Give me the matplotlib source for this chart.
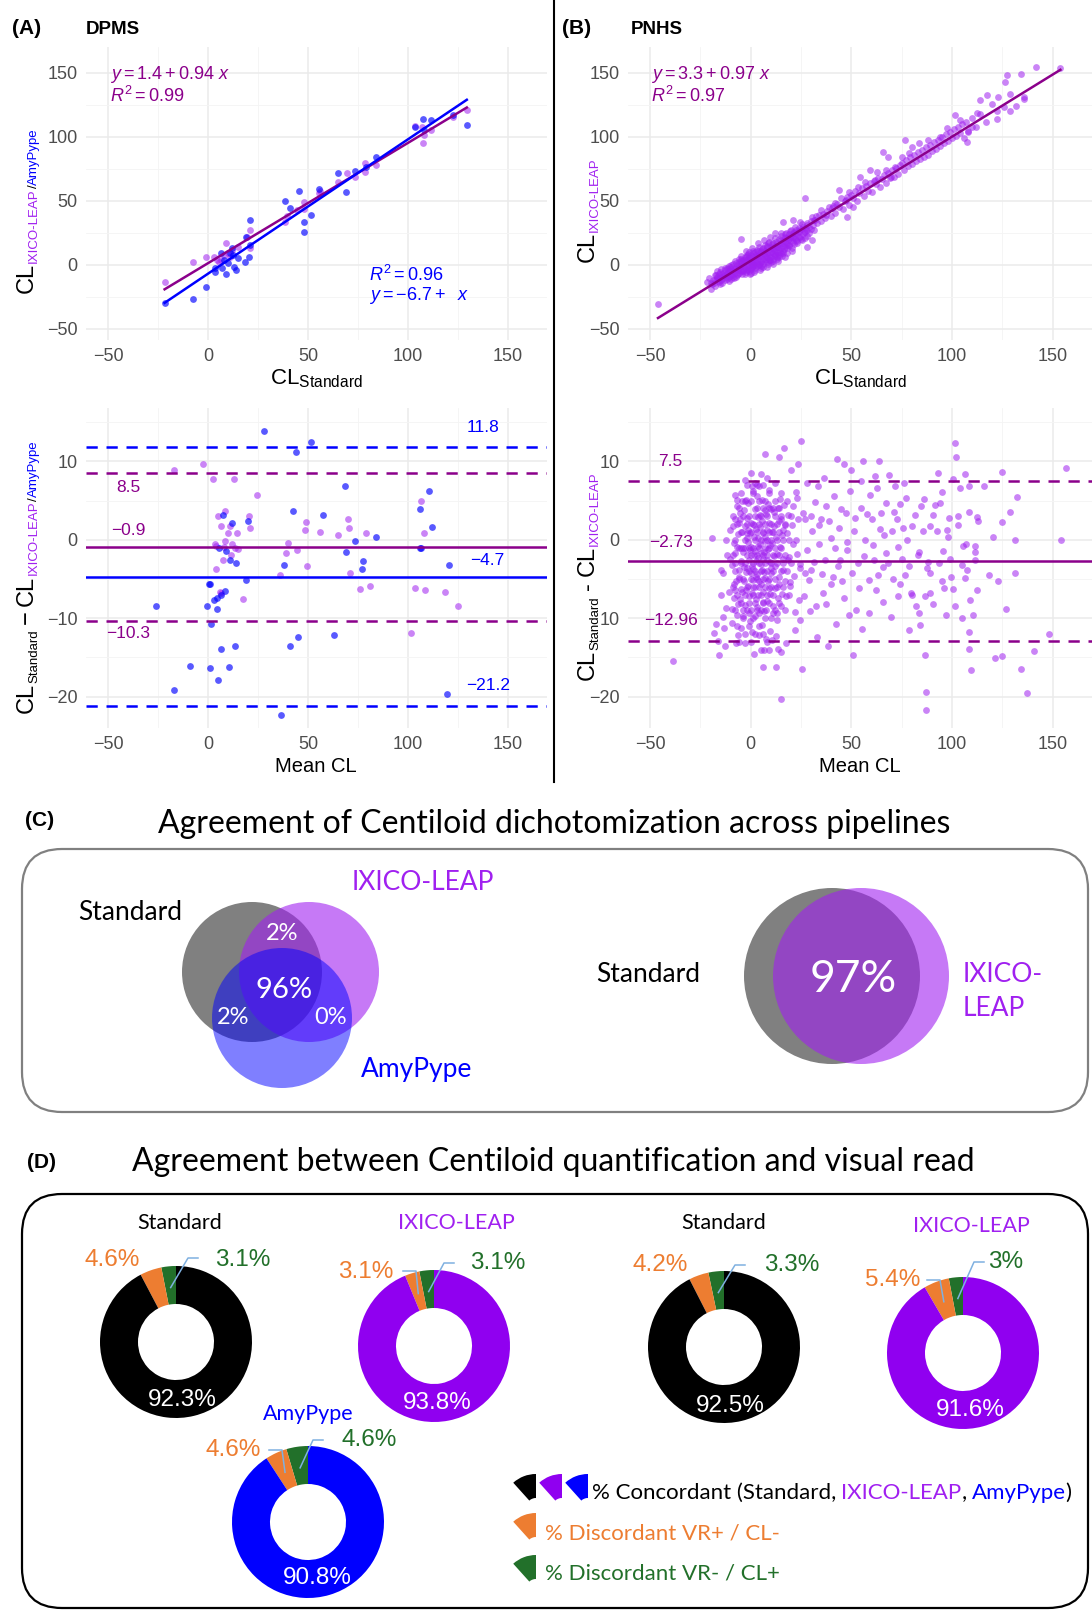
import matplotlib
matplotlib.use("Agg")
import matplotlib.pyplot as plt
from matplotlib.patches import Circle, FancyBboxPatch, Wedge
import numpy as np

W, H = 1092, 1612
plt.rcParams['font.family'] = ['Liberation Sans', 'DejaVu Sans']
plt.rcParams['mathtext.fontset'] = 'custom'
plt.rcParams['mathtext.rm'] = 'Liberation Sans'
plt.rcParams['mathtext.it'] = 'Liberation Sans:italic'
plt.rcParams['mathtext.bf'] = 'Liberation Sans:bold'
CD_FONT = ['Lato', 'DejaVu Sans']

PURPLE = '#A020F0'
DMAG = '#8B008B'
BLUE = '#0000FF'
RING_PURPLE = '#9000F0'
ORANGE = '#ED7D31'
GREEN = '#22702A'
LEADER = '#7FB0E0'

# ---------------- data: DPMS (panel A) ----------------
# (CL standard, CL IXICO-LEAP)
dpms_ixico = [(-21.7, -13.0), (-7.4, 2.0), (-1.2, 6.5), (3.2, 6.5), (4.5, 4.0), (6.6, 4.0),
              (9.2, 16.9), (10.1, 9.1), (12.0, 11.5), (15.2, 14.3), (8.0, 8.0), (5.5, 2.5),
              (11.0, 6.0), (21.2, 27.3), (21.2, 13.0), (19.5, 22.1), (38.4, 33.8), (44.4, 42.9),
              (47.8, 49.4), (55.6, 56.0), (65.0, 65.1), (69.3, 71.6), (73.6, 69.0), (78.7, 79.4),
              (78.7, 72.9), (83.9, 78.1), (107.0, 108.0), (107.9, 101.5), (107.6, 95.5),
              (111.3, 105.4), (122.5, 115.9), (129.4, 121.0), (39.5, 38.0), (48.0, 44.0),
              (56.0, 58.0), (103.5, 108.5)]
# (CL standard, CL AmyPype)
dpms_amypype = [(-21.7, -30.0), (-7.4, -26.6), (-1.2, -17.5), (3.6, -2.6), (3.7, -5.2), (6.6, 9.1),
                (7.0, -2.1), (9.2, -7.3), (10.1, 1.3), (10.9, 9.1), (11.8, 13.0), (13.2, -1.3),
                (14.0, -3.9), (15.2, 5.2), (18.7, 2.6), (19.2, 22.1), (20.4, 6.5), (21.2, 35.1),
                (21.2, 15.6), (38.4, 50.0), (41.0, 44.2), (45.3, 57.8), (47.8, 33.8), (47.8, 25.5),
                (51.3, 39.0), (55.6, 59.3), (65.0, 71.8), (69.0, 56.7), (73.3, 73.1), (79.1, 76.8),
                (83.9, 84.1), (103.6, 108.0), (107.6, 113.8), (107.9, 105.4), (111.3, 113.3),
                (122.5, 117.2), (129.4, 109.3), (8.0, 4.0), (12.5, 7.5)]
fit_ixico = (1.4, 0.94)
fit_amypype = (-6.8, 1.05)

# Bland-Altman (mean CL, difference)
ba_ixico = [(-17.0, 8.9), (-2.5, 9.7), (2.7, 7.8), (13.2, 7.7), (24.3, 5.7), (106.5, 5.0), (4.9, 3.0),
            (8.7, 3.7), (20.4, 3.0), (70.2, 2.7), (48.9, 2.3), (6.7, 1.7), (11.0, 1.7), (21.1, 1.5),
            (70.3, 1.5), (48.4, 1.2), (10.1, 0.9), (14.6, 0.8), (56.1, 1.0), (65.0, 0.6), (78.9, 0.8),
            (108.2, 0.9), (8.4, -0.1), (3.4, -0.5), (11.8, -0.5), (40.1, -0.4), (4.1, -0.8),
            (7.9, -0.9), (13.5, -1.1), (14.9, -1.2), (44.4, -1.3), (38.9, -1.7), (11.5, -2.0),
            (7.5, -2.6), (49.6, -3.4), (4.1, -3.7), (36.2, -4.5), (71.0, -4.3), (5.8, -6.6),
            (76.2, -6.3), (80.8, -5.9), (103.6, -6.1), (108.4, -6.4), (118.7, -6.6), (17.3, -7.6),
            (125.1, -8.5), (101.4, -11.9), (6.5, -6.8)]
ba_amypype = [(28.1, 13.9), (51.3, 12.5), (44.1, 11.2), (68.4, 6.9), (110.5, 6.2), (42.4, 3.7),
              (57.3, 3.1), (105.9, 3.9), (112.2, 1.6), (7.5, 3.2), (11.8, 2.2), (20.0, 2.4),
              (84.2, 0.4), (73.3, -0.2), (69.0, -1.6), (106.7, -1.0), (105.9, -1.1), (5.3, -1.1),
              (9.2, -1.4), (11.0, -2.6), (14.0, -2.9), (77.4, -2.7), (77.0, -3.7), (38.1, -3.2),
              (120.4, -3.2), (19.0, -5.1), (0.6, -5.6), (0.8, -5.7), (8.4, -6.5), (6.7, -7.1),
              (4.6, -7.4), (2.9, -7.7), (-0.6, -8.5), (4.6, -8.8), (-26.0, -8.5), (1.5, -10.8),
              (44.9, -12.4), (62.8, -12.2), (41.0, -13.6), (13.5, -13.5), (6.3, -13.9),
              (-9.1, -16.1), (1.0, -16.4), (10.4, -16.2), (5.0, -17.9), (-17.0, -19.1),
              (119.4, -19.7), (36.7, -22.3)]
loa_ixico = (-0.9, 8.5, -10.3)
loa_amypype = (-4.7, 11.8, -21.2)

# ---------------- data: PNHS (panel B) ----------------
pnhs_xy = [(-46.1, -30.5), (153.8, 154.0), (141.9, 154.4), (126.2, 143.2), (127.2, 148.4),
           (134.0, 149.3), (129.0, 133.6), (135.6, 131.5), (135.6, 129.4), (131.7, 124.2),
           (129.0, 120.0), (122.3, 114.4), (117.3, 133.0), (113.7, 128.9), (122.6, 131.5),
           (119.8, 125.8), (122.3, 120.6), (125.7, 123.7), (116.9, 112.0), (112.5, 118.5),
           (109.9, 108.0), (107.3, 96.3), (107.8, 104.1), (103.8, 113.3), (101.2, 117.2),
           (97.7, 106.7), (94.2, 100.2), (88.1, 97.6), (83.7, 95.0), (80.3, 92.4), (76.8, 97.6),
           (78.5, 87.2), (75.0, 84.6), (65.5, 88.5), (68.1, 84.6), (71.6, 76.8), (67.2, 74.2),
           (69.8, 69.0), (62.8, 72.9), (59.3, 74.2), (61.9, 66.4), (56.7, 65.1), (54.1, 69.0),
           (53.3, 61.2), (48.9, 57.3), (43.7, 58.6), (47.2, 50.8), (50.6, 45.5), (48.0, 37.7),
           (41.9, 48.1), (40.2, 44.2), (37.6, 39.0), (34.9, 42.9), (27.1, 52.6), (31.5, 35.1),
           (28.0, 27.3), (24.5, 33.8), (21.0, 35.1), (15.8, 33.8), (17.5, 24.7), (21.0, 24.7),
           (25.4, 19.5), (30.6, 19.5), (28.0, 14.3), (-4.8, 20.0),
           (-22, -13), (-21, -10), (-20, -14), (-20, -19), (-18, -12), (-18, -8), (-17, -5),
           (-17, -10), (-16, -13), (-16, -7), (-15, -3), (-15, -9), (-15, -12), (-14, -6),
           (-14, -10), (-13, -4), (-13, -8), (-12, -2), (-12, -6), (-12, -11), (-11, -5),
           (-11, -1), (-11, -9), (-10, -3), (-10, -7), (-10, 0), (-10, -11), (-9, -5), (-9, 1),
           (-9, -9), (-8, -2), (-8, -6), (-8, 3), (-7, 0), (-7, -4), (-7, -8), (-6, -2), (-6, 2),
           (-6, 5), (-6, -6), (-5, -1), (-5, 3), (-5, -5), (-5, 7), (-4, 0), (-4, -4), (-4, 4),
           (-3, 2), (-3, -2), (-3, 6), (-3, -7), (-2, 0), (-2, 4), (-2, 8), (-2, -4), (-1, 2),
           (-1, -2), (-1, 6), (-1, 10), (0, 0), (0, 4), (0, 8), (0, -3), (0, -6), (1, 2), (1, 6),
           (1, -1), (1, 11), (2, 4), (2, 0), (2, 8), (2, -4), (3, 3), (3, 7), (3, 12), (3, -1),
           (4, 5), (4, 1), (4, 9), (4, 14), (5, 3), (5, 7), (5, 11), (5, -2), (6, 5), (6, 9),
           (6, 13), (6, 1), (7, 7), (7, 11), (7, 3), (7, 16), (8, 6), (8, 10), (8, 14), (8, 2),
           (9, 8), (9, 12), (9, 4), (9, 18), (10, 10), (10, 6), (10, 14), (10, 2), (11, 9),
           (11, 13), (11, 17), (11, 5), (12, 11), (12, 7), (12, 15), (12, 21), (13, 10), (13, 14),
           (13, 6), (14, 12), (14, 16), (14, 20), (14, 8), (15, 13), (15, 17), (15, 9), (15, 25),
           (16, 15), (16, 19), (16, 11), (17, 14), (17, 22), (17, 18), (18, 17), (18, 21),
           (18, 13), (19, 20), (19, 24), (19, 16), (20, 19), (20, 23), (20, 27), (21, 18),
           (21, 22), (22, 21), (22, 25), (22, 30), (23, 24), (23, 19), (24, 26), (24, 22),
           (25, 28), (25, 20), (26, 24), (26, 30), (27, 29), (27, 26), (28, 33), (28, 23),
           (29, 30), (30, 28), (30, 34), (31, 31), (32, 35), (33, 33),
           (-19.4, -15.2), (-18.7, -11.4), (-17.9, -16.1), (-17.2, -7.8), (-16.5, -12.6),
           (-15.8, -10.4), (-15.1, -5.6), (-14.4, -13.7), (-13.7, -8.9), (-13.0, -2.7),
           (-12.4, -9.7), (-11.7, -6.8), (-11.0, -12.4), (-10.4, -4.6), (-9.7, -1.8), (-9.1, -7.7),
           (-8.4, -10.3), (-7.8, -3.4), (-7.2, 1.6), (-6.6, -7.1), (-6.0, -0.4), (-5.4, -3.6),
           (-4.8, 4.9), (-4.2, -6.9), (-3.6, -1.1), (-3.0, 3.7), (-2.5, -5.7), (-1.9, 1.3),
           (-1.3, 8.6), (-0.7, -4.4), (-0.1, 2.7), (0.5, -1.6), (1.1, 9.2), (1.6, 3.4), (2.2, -2.6),
           (2.8, 5.9), (3.4, 10.6), (3.9, -0.3), (4.5, 6.8), (5.1, 2.1), (5.7, 12.4), (6.2, -1.4),
           (6.8, 8.3), (7.4, 4.6), (8.0, 14.9), (8.5, 0.6), (9.1, 9.7), (9.7, 6.2), (10.3, 16.3),
           (10.8, 3.1), (11.4, 11.8), (12.0, 8.6), (12.6, 18.2), (13.1, 4.9), (13.7, 13.7),
           (14.3, 10.1), (14.9, 22.3), (15.4, 7.3), (16.0, 16.9), (16.6, 12.8), (17.2, 23.9),
           (17.8, 9.7), (18.4, 19.3), (19.0, 14.6), (19.7, 26.8), (20.3, 13.1), (21.0, 20.7),
           (21.7, 16.4), (22.4, 27.5), (23.1, 17.2), (23.9, 29.1), (24.6, 21.6), (25.4, 31.8),
           (26.2, 25.4), (27.1, 21.1), (28.0, 30.9), (29.0, 25.1), (30.2, 37.2), (31.3, 27.6),
           (32.5, 38.4), (-18.2, -13.9), (-16.9, -9.3), (-15.5, -14.8), (-14.1, -7.1),
           (-12.8, -11.6), (-11.4, -3.3), (-10.1, -8.6), (-8.8, -4.9), (-7.5, -9.2), (-6.3, -2.6),
           (-5.0, 1.8), (-3.8, -4.6), (-2.6, 5.9), (-1.5, -2.9), (-0.3, 5.4), (0.9, 0.9),
           (2.0, 10.4), (3.1, 1.7), (4.2, 8.1), (5.3, -0.9), (6.4, 11.2), (7.5, 6.1), (8.6, 16.8),
           (9.6, 3.7), (10.7, 13.1), (11.8, 7.6), (12.9, 16.4), (13.9, 6.4), (15.0, 19.6),
           (16.1, 9.2), (17.1, 20.8), (18.2, 15.4), (19.3, 21.7), (20.4, 10.6), (21.5, 25.6),
           (22.6, 19.7), (23.7, 26.3), (-0.6, -6.8), (1.8, -5.2), (4.8, -3.7), (7.9, -1.8),
           (10.9, 0.7), (13.6, 2.9), (16.8, 6.3), (-2.2, 11.3), (0.7, 13.6), (3.7, 16.8),
           (6.6, 19.4), (9.4, 22.1), (12.2, 24.8),
           (34, 39), (35, 34), (36, 40), (37, 37), (38, 42), (39, 45), (40, 38), (41, 46),
           (42, 41), (43, 48), (44, 45), (45, 52), (46, 44), (47, 50), (48, 53), (49, 47),
           (50, 55), (51, 52), (52, 58), (53, 50), (54, 56), (55, 60), (56, 54), (57, 62),
           (58, 58), (59, 64), (60, 57), (61, 66), (62, 63), (63, 68), (64, 61), (65, 67),
           (66, 70), (67, 64), (68, 72), (69, 68), (70, 74), (71, 69), (72, 76), (73, 71),
           (74, 78), (75, 80), (76, 74), (77, 82), (78, 77), (79, 84), (80, 79), (81, 86),
           (82, 81), (83, 88), (84, 83), (85, 90), (86, 84), (87, 92), (88, 86), (89, 94),
           (90, 89), (91, 96), (92, 91), (93, 98), (94, 93), (95, 100), (96, 95), (97, 102),
           (98, 97), (99, 104), (100, 99), (101, 106), (102, 101), (103, 108), (104, 103),
           (105, 110), (106, 99), (107, 112), (108, 105), (110, 115), (112, 108), (114, 118)]
fit_pnhs = (3.3, 0.97)

pnhs_ba = [(-19.1, 0.2), (-38.6, -15.4), (156.6, 9.2), (154.0, 0.0), (148.2, -12.0), (140.9, -14.2),
           (137.3, -19.5), (134.3, -16.5), (128.7, 3.6), (132.2, 5.5), (131.2, 0.0), (131.2, -4.2),
           (127.0, -8.8), (124.7, 8.7), (124.7, 2.3), (124.7, -14.8), (121.2, -15.1), (123.0, -5.2),
           (120.4, 0.4), (118.3, -4.5), (116.0, 6.8), (112.5, -6.4), (113.0, 2.4), (112.2, 2.9),
           (111.6, -2.6), (111.6, -1.5), (111.6, -0.8), (110.2, -9.6), (109.5, -16.6),
           (108.5, -13.9), (108.5, -11.7), (109.0, -7.7), (108.2, 3.6), (108.2, 6.8), (106.4, 8.4),
           (107.3, -3.8), (106.4, -4.9), (105.5, -0.8), (106.8, -0.6), (104.7, -10.0),
           (103.8, 6.6), (103.0, 1.9), (102.1, 10.6), (101.5, 12.3), (101.2, -8.5), (100.3, 7.7),
           (99.4, -4.7), (99.1, -2.5), (98.6, 2.8), (97.7, 1.3), (95.9, -6.2), (95.1, -5.3),
           (95.6, -1.4), (94.2, 4.7), (92.5, 1.1), (93.0, 8.5), (90.7, 3.2), (89.0, -6.8),
           (89.0, -4.3), (88.1, -2.8), (87.2, -19.4), (87.2, -21.7), (86.4, -14.7), (86.4, -7.2),
           (85.5, 1.1), (84.6, 4.3), (83.7, -1.5), (83.4, -9.4), (82.0, -8.5), (80.3, 1.7),
           (79.4, -6.8), (78.5, -11.5), (77.6, 0.0), (76.8, -4.5), (75.9, 7.2), (75.0, -2.5),
           (74.2, 4.5), (73.3, -7.2), (72.4, 2.6), (71.6, 6.8), (70.7, -5.0), (70.3, 1.1),
           (68.9, 8.2), (67.2, -1.7), (66.3, 0.6), (65.5, -3.5), (64.6, 3.4), (63.7, 10.0),
           (62.8, 6.6), (62.0, -6.4), (61.1, -2.6), (60.2, 2.6), (59.3, 5.7), (58.5, -5.1),
           (56.7, 0.0), (55.9, 10.0), (55.0, -11.4), (54.5, 4.0), (53.2, -3.0), (52.4, -8.9),
           (51.5, 1.1), (50.6, -14.7), (49.8, 8.9), (48.9, -9.6), (48.0, -1.3), (47.2, 3.4),
           (46.3, 9.6), (45.4, -5.3), (44.5, -2.6), (43.7, 1.5), (42.8, 10.3), (41.9, -1.1),
           (41.0, -4.7), (39.8, 0.2), (38.4, -13.6), (37.6, 4.3), (36.7, -2.6), (35.8, -6.8),
           (34.9, 2.6), (34.1, -0.6), (33.2, 6.8), (32.3, -8.5), (31.5, -2.8), (30.6, 1.1),
           (29.7, 3.0), (28.8, -5.1), (28.0, -1.3), (27.1, 2.6), (26.2, -7.2), (25.4, -16.5),
           (24.8, 12.6), (24.5, -3.6), (23.6, 9.6), (22.7, 0.0), (21.9, -11.5), (21.0, 4.3),
           (20.1, 8.9), (19.3, -5.9), (18.4, -2.6), (17.5, -13.2), (16.6, 11.7), (15.8, 1.3),
           (15.1, -20.3), (14.9, -14.3), (14.0, 10.6), (13.2, -9.4), (12.3, -16.2), (7.0, 10.9),
           (6.2, -16.2), (0.1, 8.5), (-1.7, 0.2), (-7.8, -1.7), (-12.5, 0.0), (-13.9, -9.8),
           (-14.7, -3.8), (-17.3, -10.8), (-18.2, -11.9), (-15.6, -14.7), (-13.9, -4.3),
           (-10.4, 1.3), (-7.8, -6.4), (-6.9, 5.1), (-13.0, -13.6),
           (-9, -2), (-9, -6), (-9, 3), (-8, -9), (-8, 0), (-8, -4), (-7, 2), (-7, -7), (-7, -11),
           (-6, -1), (-6, -5), (-6, 4), (-6, -13), (-5, 1), (-5, -3), (-5, -8), (-5, 6), (-4, -1),
           (-4, -5), (-4, -10), (-4, 3), (-3, 0), (-3, -3), (-3, -7), (-3, 5), (-3, -12), (-2, 2),
           (-2, -2), (-2, -6), (-2, -9), (-2, 7), (-1, -1), (-1, -4), (-1, 3), (-1, -8), (-1, -11),
           (0, 1), (0, -2), (0, -5), (0, 5), (0, -9), (0, -13), (1, -1), (1, -3), (1, 2), (1, -7),
           (1, 6), (1, -10), (2, 0), (2, -4), (2, 3), (2, -6), (2, -8), (2, -12), (3, -2), (3, 1),
           (3, -5), (3, 4), (3, -9), (3, 7), (4, -1), (4, -3), (4, 2), (4, -6), (4, -11), (4, 5),
           (5, 0), (5, -4), (5, 3), (5, -7), (5, -9), (5, -14), (6, -2), (6, 1), (6, -5), (6, 4),
           (6, -8), (6, 7), (6, -12), (7, -1), (7, -3), (7, 2), (7, -6), (7, -10), (7, 5), (8, 0),
           (8, -4), (8, 3), (8, -7), (8, -2), (8, -13), (9, -1), (9, 1), (9, -5), (9, 4), (9, -8),
           (9, 6), (10, -3), (10, 0), (10, 2), (10, -6), (10, -10), (11, -2), (11, 1), (11, -4),
           (11, 4), (11, -7), (12, -1), (12, 3), (12, -5), (12, -9), (12, 5), (13, 0), (13, -3),
           (13, -6), (13, 2), (14, -2), (14, 1), (14, -8), (14, 4), (15, -1), (15, -4), (15, 3),
           (15, 6), (16, -3), (16, 0), (16, -6), (17, 2), (17, -2), (17, -9), (18, -4), (18, 5),
           (19, 0), (19, -7), (20, -3), (20, 3),
           (-9.5, -3.2), (-8.7, 1.8), (-8.2, -7.4), (-7.6, -2.9), (-7.1, 4.3), (-6.8, -9.6),
           (-6.3, 0.7), (-5.7, -4.8), (-5.2, 2.6), (-4.8, -11.3), (-4.3, -6.7), (-3.9, -1.6),
           (-3.4, 3.8), (-2.8, -8.3), (-2.5, -4.1), (-2.1, 0.9), (-1.6, -5.9), (-1.2, 4.7),
           (-0.7, -2.6), (-0.3, -10.4), (0.2, 2.1), (0.6, -6.8), (0.9, -3.7), (1.3, 6.2),
           (1.7, -1.9), (2.2, -9.7), (2.6, 1.4), (3.1, -4.4), (3.5, -7.1), (3.8, 2.9),
           (4.3, -12.2), (4.7, -0.6), (5.1, -5.6), (5.6, 5.1), (6.0, -2.4), (6.4, -9.1), (6.9, 0.4),
           (7.3, -4.9), (7.8, 3.3), (8.2, -7.8), (8.6, -1.2), (9.1, 2.2), (9.5, -11.6), (9.9, -4.2),
           (10.4, 1.0), (10.8, -8.4), (11.3, 3.6), (11.7, -2.1), (12.2, -6.2), (12.6, 0.3),
           (13.1, -10.2), (13.5, 4.1), (14.0, -4.7), (14.4, -0.9), (14.9, 2.7), (15.4, -6.9),
           (15.9, -2.5), (16.5, 4.4), (17.2, -5.3), (18.1, 0.8), (19.2, -2.2), (20.4, 1.9),
           (21.6, -4.6), (22.8, 5.3), (23.9, -7.7),
           (-9.1, -8.8), (-8.4, -0.4), (-7.8, 5.7), (-7.3, -5.3), (-6.6, -12.1), (-6.1, 2.2),
           (-5.5, -7.6), (-4.9, -1.1), (-4.5, 4.9), (-4.0, -8.9), (-3.6, -3.5), (-3.1, 1.7),
           (-2.7, -13.2), (-2.3, -6.4), (-1.8, 2.8), (-1.4, -0.3), (-0.9, -7.2), (-0.5, 0.8),
           (0.0, -4.3), (0.4, 6.9), (0.8, -11.8), (1.1, -5.1), (1.5, 0.4), (1.9, 3.9), (2.4, -2.7),
           (2.8, -7.5), (3.3, 5.6), (3.7, -0.8), (4.1, -9.4), (4.5, 1.6), (4.9, -3.1),
           (5.4, -10.9), (5.8, 2.4), (6.2, -6.6), (6.7, -1.5), (7.1, 3.8), (7.6, -12.7), (8.0, 1.2),
           (8.4, -5.2), (8.9, 6.4), (9.3, -2.8), (9.7, -6.9), (10.2, 3.9), (10.6, -0.4),
           (11.1, -9.3), (11.5, 1.7), (12.0, -3.3), (12.4, -12.3), (12.9, -1.8), (13.3, -7.4),
           (13.8, 2.4), (14.2, -5.6), (14.7, 5.2), (15.1, -8.5), (15.6, 0.6), (16.2, -3.8),
           (16.9, 1.9), (17.7, -7.2), (18.6, 3.1), (19.6, -5.4), (20.8, -0.6), (22.1, -9.2),
           (23.4, 2.6), (24.6, -3.1),
           (0.3, -0.9), (0.7, -3.4), (1.2, -6.0), (1.6, 1.9), (2.0, -1.4), (2.5, -4.8), (2.9, -8.6),
           (3.4, 0.2), (3.8, -2.3), (4.2, -5.3), (4.6, 3.1), (5.0, -1.7), (5.5, -3.9), (5.9, -7.9),
           (6.3, 0.9), (6.8, -4.1), (7.2, -0.2), (7.7, -8.9), (8.1, -2.6), (8.5, 4.6), (9.0, -6.1),
           (9.4, -0.7), (9.8, -3.6), (10.3, -12.8), (-0.6, -1.3), (-1.1, -9.4), (-1.5, 1.2),
           (-2.0, -3.6), (-2.4, 5.1), (-2.9, -1.0), (-3.3, -5.2), (-3.8, -9.7), (-4.2, 1.0),
           (-4.7, -2.7), (-5.1, -6.3), (-5.6, 3.4), (-6.0, -3.9), (-6.4, -8.2), (-7.0, -0.9),
           (-7.5, -13.1), (-8.0, 2.7), (-8.5, -5.7), (-9.3, -10.6), (-10.1, -2.4), (-10.8, -6.6),
           (-11.6, -1.9), (-12.3, -8.7), (-13.4, -11.2), (-14.6, -7.1), (-16.1, -12.9), (4.0, 6.8),
           (2.3, 7.3), (6.5, -14.1), (1.8, -14.6), (8.8, -14.0), (11.9, 7.2), (13.7, -13.9),
           (-3.0, 7.6), (5.3, 8.4), (7.9, 7.9),
           (22.4, 6.1), (23.1, -1.8), (24.2, -10.2), (25.7, 3.4), (26.8, -4.3), (27.9, 7.3),
           (29.2, -9.1), (30.1, -3.9), (31.7, 4.8), (32.8, -12.4), (33.9, 1.9), (35.2, -4.4),
           (36.3, 7.9), (37.4, -8.2), (38.9, 2.4), (39.7, -5.7), (41.3, 5.6), (42.1, -10.8),
           (43.2, -3.4), (44.9, 3.9), (46.1, -7.4), (47.8, -0.3), (49.3, 6.2), (50.2, -4.2),
           (51.9, 2.8), (53.8, -6.1), (54.9, 7.5), (56.2, -2.1), (57.7, 3.3), (58.9, -9.4),
           (60.6, -0.7), (61.8, 8.1), (63.1, -4.5), (64.2, 1.4), (65.8, -7.9), (67.1, 4.7),
           (68.3, -2.9), (69.7, -9.9), (71.2, 3.6), (72.9, -0.9), (74.1, -5.7), (75.6, 1.5),
           (77.3, 5.3), (78.6, -3.3), (80.1, -7.1), (81.4, 3.1), (82.9, -1.9), (84.3, -10.9),
           (85.8, 5.2), (87.4, -3.6), (88.9, 1.8), (90.3, -8.2), (91.6, 4.4), (93.4, -2.9),
           (95.0, 6.1), (96.8, -9.6), (98.2, 0.4), (100.5, -6.3), (102.7, 3.0), (104.9, -3.2)]
loa_pnhs = (-2.73, 7.5, -12.96)

# ---------------- data: panels C and D ----------------
venn3_labels = ['2%', '96%', '2%', '0%']
venn2_label = '97%'
donut_titles = ['Standard', 'IXICO-LEAP', 'Standard', 'IXICO-LEAP', 'AmyPype']
donut_green = [3.1, 3.1, 3.3, 3.0, 4.6]
donut_orange = [4.6, 3.1, 4.2, 5.4, 4.6]
donut_main = [92.3, 93.8, 92.5, 91.6, 90.8]
donut_green_txt = ['3.1%', '3.1%', '3.3%', '3%', '4.6%']
donut_orange_txt = ['4.6%', '3.1%', '4.2%', '5.4%', '4.6%']
donut_main_txt = ['92.3%', '93.8%', '92.5%', '91.6%', '90.8%']
donut_colors = ['black', RING_PURPLE, 'black', RING_PURPLE, BLUE]
title_colors = ['black', PURPLE, 'black', PURPLE, BLUE]


def box(l, t, r, b):
    return [l / W, 1 - b / H, (r - l) / W, (b - t) / H]


fig = plt.figure(figsize=(W / 100, H / 100), dpi=100)
ov = fig.add_axes([0, 0, 1, 1])
ov.set_xlim(0, W)
ov.set_ylim(H, 0)
ov.axis('off')
ov.set_zorder(10)
rend = fig.canvas.get_renderer()


def multicolor(x, y, parts, vertical=False, family=None):
    # parts: (text, colour, size, baseline shift, gap after), pixel coords
    pos = 0.0
    for s, c, size, shift, gap in parts:
        if vertical:
            t = ov.text(x + shift, y - pos, s, color=c, fontsize=size, family=family,
                        rotation=90, rotation_mode='anchor', ha='left', va='baseline')
            pos += t.get_window_extent(rend).height + gap
        else:
            t = ov.text(x + pos, y + shift, s, color=c, fontsize=size, family=family,
                        ha='left', va='baseline')
            pos += t.get_window_extent(rend).width + gap


def style(ax, ylim, ymaj, ymin):
    ax.set_xlim(-61, 169.5)
    ax.set_ylim(*ylim)
    ax.set_xticks([-50, 0, 50, 100, 150])
    ax.set_xticks([-25, 25, 75, 125], minor=True)
    ax.set_yticks(ymaj)
    ax.set_yticks(ymin, minor=True)
    ax.grid(which='major', color='#EBEBEB', lw=1.1)
    ax.grid(which='minor', color='#F4F4F4', lw=0.6)
    ax.set_axisbelow(True)
    for s in ax.spines.values():
        s.set_visible(False)
    ax.tick_params(which='both', length=0, labelsize=13, labelcolor='#4D4D4D', pad=6)
    ax.set_facecolor('none')


def scatter(ax, pts, color, alpha):
    x, y = zip(*pts)
    ax.scatter(x, y, s=24, color=color, alpha=alpha, linewidths=0, zorder=3)


def fitline(ax, pts, coef, color):
    xs = np.array([min(p[0] for p in pts), max(p[0] for p in pts)])
    ax.plot(xs, coef[0] + coef[1] * xs, color=color, lw=1.8, zorder=4)


def neg(v):
    return f'{v}'.replace('-', '\u2212')


TOP_Y = ((-58.6, 170.3), [-50, 0, 50, 100, 150], [-25, 25, 75, 125])
BOT_Y = ((-24.0, 16.8), [-20, -10, 0, 10], [-15, -5, 5, 15])

# ---- A top
ax1 = fig.add_axes(box(86, 47, 547, 340))
style(ax1, *TOP_Y)
scatter(ax1, dpms_ixico, PURPLE, 0.55)
scatter(ax1, dpms_amypype, BLUE, 0.65)
fitline(ax1, dpms_ixico, fit_ixico, DMAG)
fitline(ax1, dpms_amypype, fit_amypype, BLUE)
ax1.text(-49, 149, r'$y = 1.4 + 0.94\ x$', color=DMAG, fontsize=13, va='center')
ax1.text(-49, 132, r'$R^2 = 0.99$', color=DMAG, fontsize=13, va='center')
ax1.text(80.5, -8, r'$R^2 = 0.96$', color=BLUE, fontsize=13, va='center')
ax1.text(80.5, -24, r'$y = -6.7 +\ \ x$', color=BLUE, fontsize=13, va='center')

# ---- A bottom
ax2 = fig.add_axes(box(86, 408, 547, 728))
style(ax2, *BOT_Y)
scatter(ax2, ba_ixico, PURPLE, 0.55)
scatter(ax2, ba_amypype, BLUE, 0.65)
for loa, col in [(loa_ixico, DMAG), (loa_amypype, BLUE)]:
    ax2.axhline(loa[0], color=col, lw=1.8, zorder=4)
    for v in loa[1:]:
        ax2.axhline(v, color=col, lw=1.8, dashes=(4.5, 3.5), zorder=4)
ax2.text(-40, 6.7, neg(loa_ixico[1]), color=DMAG, fontsize=12.5, ha='center', va='center')
ax2.text(-40, 1.2, neg(loa_ixico[0]), color=DMAG, fontsize=12.5, ha='center', va='center')
ax2.text(-40, -11.9, neg(loa_ixico[2]), color=DMAG, fontsize=12.5, ha='center', va='center')
ax2.text(137.5, 14.3, neg(loa_amypype[1]), color=BLUE, fontsize=12.5, ha='center', va='center')
ax2.text(139.5, -2.7, neg(loa_amypype[0]), color=BLUE, fontsize=12.5, ha='center', va='center')
ax2.text(140, -18.6, neg(loa_amypype[2]), color=BLUE, fontsize=12.5, ha='center', va='center')

# ---- B top
ax3 = fig.add_axes(box(628, 47, 1092, 340))
style(ax3, *TOP_Y)
scatter(ax3, pnhs_xy, PURPLE, 0.55)
fitline(ax3, pnhs_xy, fit_pnhs, DMAG)
ax3.text(-49.6, 149, r'$y = 3.3 + 0.97\ x$', color=DMAG, fontsize=13, va='center')
ax3.text(-49.6, 132, r'$R^2 = 0.97$', color=DMAG, fontsize=13, va='center')

# ---- B bottom
ax4 = fig.add_axes(box(628, 408, 1092, 728))
style(ax4, *BOT_Y)
ax4.set_yticklabels(['\u221220', '10', '0', '10'])
scatter(ax4, pnhs_ba, PURPLE, 0.55)
ax4.axhline(loa_pnhs[0], color=DMAG, lw=1.8, zorder=4)
for v in loa_pnhs[1:]:
    ax4.axhline(v, color=DMAG, lw=1.8, dashes=(4.5, 3.5), zorder=4)
ax4.text(-40, 10, neg(loa_pnhs[1]), color=DMAG, fontsize=12.5, ha='center', va='center')
ax4.text(-39.7, -0.3, neg(loa_pnhs[0]), color=DMAG, fontsize=12.5, ha='center', va='center')
ax4.text(-39.7, -10.3, neg(loa_pnhs[2]), color=DMAG, fontsize=12.5, ha='center', va='center')

# axis titles and panel tags
for cx in (316, 860):
    ov.text(cx, 379, r'$\mathrm{CL}_{\mathrm{Standard}}$', fontsize=16, ha='center', va='center')
    ov.text(cx, 766, 'Mean CL', fontsize=14.5, ha='center', va='center')
multicolor(33, 293, [('CL', 'black', 17, 0, 0), ('IXICO-LEAP', PURPLE, 9.5, 4, 0),
                     ('/', 'black', 9.5, 4, 0), ('AmyPype', BLUE, 9.5, 4, 0)], vertical=True)
multicolor(33, 713, [('CL', 'black', 17, 0, 0), ('Standard', 'black', 9.5, 4, 5),
                     ('\u2212', 'black', 17, 0, 5), ('CL', 'black', 17, 0, 0),
                     ('IXICO-LEAP', PURPLE, 9.5, 4, 0), ('/', 'black', 9.5, 4, 0),
                     ('AmyPype', BLUE, 9.5, 4, 0)], vertical=True)
multicolor(594, 262, [('CL', 'black', 17, 0, 0), ('IXICO-LEAP', PURPLE, 9.5, 4, 0)], vertical=True)
multicolor(594, 680, [('CL', 'black', 17, 0, 0), ('Standard', 'black', 9.5, 4, 6),
                      ('-', 'black', 17, 0, 6), ('CL', 'black', 17, 0, 0),
                      ('IXICO-LEAP', PURPLE, 9.5, 4, 0)], vertical=True)
ov.text(27, 28, '(A)', fontsize=15, fontweight='bold', ha='center', va='center')
ov.text(113, 29, 'DPMS', fontsize=13.5, fontweight='bold', ha='center', va='center')
ov.text(577, 28, '(B)', fontsize=15, fontweight='bold', ha='center', va='center')
ov.text(657, 29, 'PNHS', fontsize=13.5, fontweight='bold', ha='center', va='center')
ov.plot([554, 554], [0, 782], color='black', lw=1.5)

# ---------------- panel C ----------------
ov.text(40, 821, '(C)', fontsize=15, fontweight='bold', ha='center', va='center')
ov.text(554, 824, 'Agreement of Centiloid dichotomization across pipelines', fontsize=23,
        family=CD_FONT, ha='center', va='center')
ov.add_patch(FancyBboxPatch((22, 849), 1066, 263, boxstyle='round,pad=0,rounding_size=40',
                            fc='none', ec='#808080', lw=1.6))
ov.add_patch(Circle((252, 972), 70, fc='#808080', ec='none'))
ov.add_patch(Circle((309, 972), 70, fc=PURPLE, ec='none', alpha=0.6))
ov.add_patch(Circle((282, 1018), 70, fc=BLUE, ec='none', alpha=0.5))
for (tx, ty), s, fs in zip([(282, 934), (284, 990), (233, 1017), (331, 1017)], venn3_labels,
                           [17, 21, 17, 17]):
    ov.text(tx, ty, s, color='white', fontsize=fs, family=CD_FONT, ha='center', va='center')
ov.text(130, 912, 'Standard', fontsize=19, family=CD_FONT, ha='center', va='center')
ov.text(423, 883, 'IXICO-LEAP', color=PURPLE, fontsize=19, family=CD_FONT, ha='center', va='center')
ov.text(417, 1070, 'AmyPype', color=BLUE, fontsize=19, family=CD_FONT, ha='center', va='center')

ov.add_patch(Circle((832, 976), 88, fc='#808080', ec='none'))
ov.add_patch(Circle((861, 976), 88, fc=PURPLE, ec='none', alpha=0.6))
ov.text(853, 980, venn2_label, color='white', fontsize=32, family=CD_FONT, ha='center', va='center')
ov.text(648, 974, 'Standard', fontsize=19, family=CD_FONT, ha='center', va='center')
ov.text(963, 975, 'IXICO-', color=PURPLE, fontsize=19, family=CD_FONT, ha='left', va='center')
ov.text(963, 1009, 'LEAP', color=PURPLE, fontsize=19, family=CD_FONT, ha='left', va='center')

# ---------------- panel D ----------------
ov.text(41, 1163, '(D)', fontsize=15, fontweight='bold', ha='center', va='center')
ov.text(553, 1162, 'Agreement between Centiloid quantification and visual read', fontsize=23,
        family=CD_FONT, ha='center', va='center')
ov.add_patch(FancyBboxPatch((22, 1194), 1066, 414, boxstyle='round,pad=0,rounding_size=40',
                            fc='none', ec='black', lw=1.6))

centers = [(176, 1342), (434, 1346), (724, 1347), (963, 1353), (308, 1522)]
R = 76
title_pos = [(180, 1223), (456, 1223), (724, 1223), (971, 1226), (308, 1414)]
orange_pos = [(112, 1260), (366, 1272), (660, 1265), (893, 1280), (233, 1450)]
green_pos = [(243, 1260), (498, 1263), (792, 1265), (1006, 1262), (369, 1440)]
main_pos = [(182, 1400), (437, 1403), (730, 1406), (970, 1410), (317, 1578)]
green_elbow = [(12, -84), (10, -83), (11, -82), (11, -91), (5, -82)]
orange_elbow = [None, (-18, -75), None, (-23, -73), (-26, -72)]

for i, (cx, cy) in enumerate(centers):
    a = fig.add_axes(box(cx - R, cy - R, cx + R, cy + R))
    a.pie([donut_green[i], donut_orange[i], donut_main[i]],
          colors=[GREEN, ORANGE, donut_colors[i]], startangle=90, counterclock=True,
          radius=1, wedgeprops=dict(width=0.5, linewidth=0))
    a.set_xlim(-1, 1)
    a.set_ylim(-1, 1)
    a.axis('off')
    ov.text(*title_pos[i], donut_titles[i], color=title_colors[i], fontsize=15.5,
            family=CD_FONT, ha='center', va='center')
    ov.text(*orange_pos[i], donut_orange_txt[i], color=ORANGE, fontsize=17.5, ha='center', va='center')
    ov.text(*green_pos[i], donut_green_txt[i], color=GREEN, fontsize=17.5, ha='center', va='center')
    ov.text(*main_pos[i], donut_main_txt[i], color='white', fontsize=17.5, ha='center', va='center')
    # leader lines from slice middles
    tot = donut_green[i] + donut_orange[i] + donut_main[i]
    ag = np.radians(90 + 180 * donut_green[i] / tot)
    sx, sy = cx + 0.72 * R * np.cos(ag), cy - 0.72 * R * np.sin(ag)
    ex, ey = cx + green_elbow[i][0], cy + green_elbow[i][1]
    ov.plot([sx, ex, ex + 10], [sy, ey, ey], color=LEADER, lw=1.1)
    if orange_elbow[i] is not None:
        ao = np.radians(90 + 360 * (donut_green[i] + donut_orange[i] / 2) / tot)
        sx, sy = cx + 0.72 * R * np.cos(ao), cy - 0.72 * R * np.sin(ao)
        ex, ey = cx + orange_elbow[i][0], cy + orange_elbow[i][1]
        ov.plot([sx, ex, ex - 13], [sy, ey, ey], color=LEADER, lw=1.1)

# legend
for k, col in enumerate(['black', RING_PURPLE, BLUE]):
    ov.add_patch(Wedge((536 + 26 * k, 1508), 34, 228, 270, width=24, fc=col, ec='none'))
ov.add_patch(Wedge((536, 1547), 34, 228, 270, width=24, fc=ORANGE, ec='none'))
ov.add_patch(Wedge((536, 1589), 34, 228, 270, width=24, fc=GREEN, ec='none'))
multicolor(592, 1499, [('% Concordant (Standard,', 'black', 16, 0, 5),
                       ('IXICO-LEAP', PURPLE, 16, 0, 0), (',', 'black', 16, 0, 5),
                       ('AmyPype', BLUE, 16, 0, 0), (')', 'black', 16, 0, 0)], family=CD_FONT)
ov.text(545, 1539, '% Discordant VR+ / CL-', color=ORANGE, fontsize=16, family=CD_FONT, va='baseline')
ov.text(545, 1579, '% Discordant VR- / CL+', color=GREEN, fontsize=16, family=CD_FONT, va='baseline')

fig.savefig('out.png', dpi=100)
